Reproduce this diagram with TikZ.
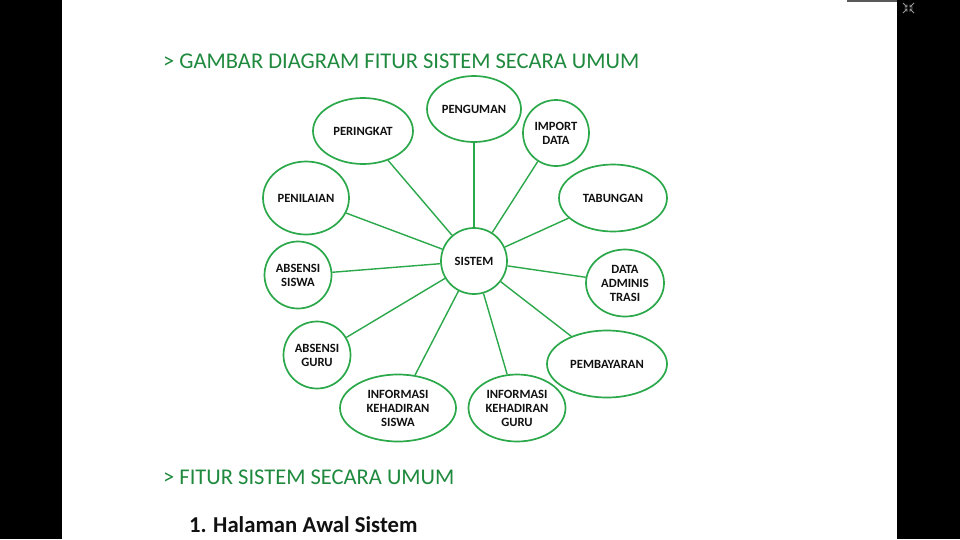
\documentclass[tikz,border=0pt]{standalone}
\usepackage{fontspec}
\setmainfont{Carlito}
\usetikzlibrary{shapes.geometric}
\definecolor{hgreen}{HTML}{1F8A3E}
\definecolor{sgreen}{HTML}{2BA84A}
\definecolor{txt}{HTML}{111111}
\begin{document}
\begin{tikzpicture}[x=1pt,y=-1pt,
  bub/.style={ellipse, draw=sgreen, line width=1.7pt, inner sep=0pt, fill=white,
    text=txt, font=\fontsize{12.6}{14}\selectfont\bfseries, align=center},
  link/.style={draw=sgreen, line width=1.4pt},
  heading/.style={anchor=base west, inner sep=0pt, text=hgreen, font=\fontsize{22.5}{27}\selectfont}]
\useasboundingbox (0,0) rectangle (960,539);
\fill[black] (0,0) rectangle (62,539);
\fill[black] (897,0) rectangle (960,539);
\fill[white] (62,0) rectangle (897,539);
\draw[gray!70!black, line width=1.5pt] (847,0.75) -- (897,0.75);
% compress icon
\begin{scope}[draw=gray!80, line width=0.8pt]
  \draw (903,3) -- (907,7) (904.5,7) -- (907,7) -- (907,4.5);
  \draw (914,3) -- (910,7) (912.5,7) -- (910,7) -- (910,4.5);
  \draw (903,13) -- (907,9) (904.5,9) -- (907,9) -- (907,11.5);
  \draw (914,13) -- (910,9) (912.5,9) -- (910,9) -- (910,11.5);
\end{scope}

\node[heading] (t1) at (163,68) {> GAMBAR DIAGRAM FITUR SISTEM SECARA UMUM};
\node[heading] (t2) at (163,484) {> FITUR SISTEM SECARA UMUM};
\node[anchor=base west, inner sep=0pt, text=txt, font=\fontsize{22.7}{27}\selectfont\bfseries] (t3) at (189,532) {\makebox[24pt][l]{1.}Halaman Awal Sistem};

\node[bub, minimum width=66pt, minimum height=66pt] (sis) at (474,261) {SISTEM};
\node[bub, minimum width=94pt, minimum height=66pt] (pen) at (474,109) {PENGUMAN};
\node[bub, minimum width=66pt, minimum height=66pt] (imp) at (556,133) {IMPORT\\DATA};
\node[bub, minimum width=100pt, minimum height=66pt] (per) at (363,131) {PERINGKAT};
\node[bub, minimum width=86pt, minimum height=73pt] (nil) at (306,198) {PENILAIAN};
\node[bub, minimum width=108pt, minimum height=67pt] (tab) at (613,198) {TABUNGAN};
\node[bub, minimum width=67pt, minimum height=67pt] (abs) at (298,275) {ABSENSI\\SISWA};
\node[bub, minimum width=78pt, minimum height=67pt] (adm) at (625,283) {DATA\\ADMINIS\\TRASI};
\node[bub, minimum width=67pt, minimum height=67pt] (abg) at (317,355) {ABSENSI\\GURU};
\node[bub, minimum width=120pt, minimum height=67pt] (pem) at (607,364) {PEMBAYARAN};
\node[bub, minimum width=116pt, minimum height=67pt] (iks) at (398,408) {INFORMASI\\KEHADIRAN\\SISWA};
\node[bub, minimum width=97pt, minimum height=67pt] (ikg) at (517,408) {INFORMASI\\KEHADIRAN\\GURU};

\foreach \n in {pen,imp,per,nil,tab,abs,adm,abg,pem,iks,ikg}
  \draw[link] (sis) -- (\n);
\end{tikzpicture}
\end{document}
